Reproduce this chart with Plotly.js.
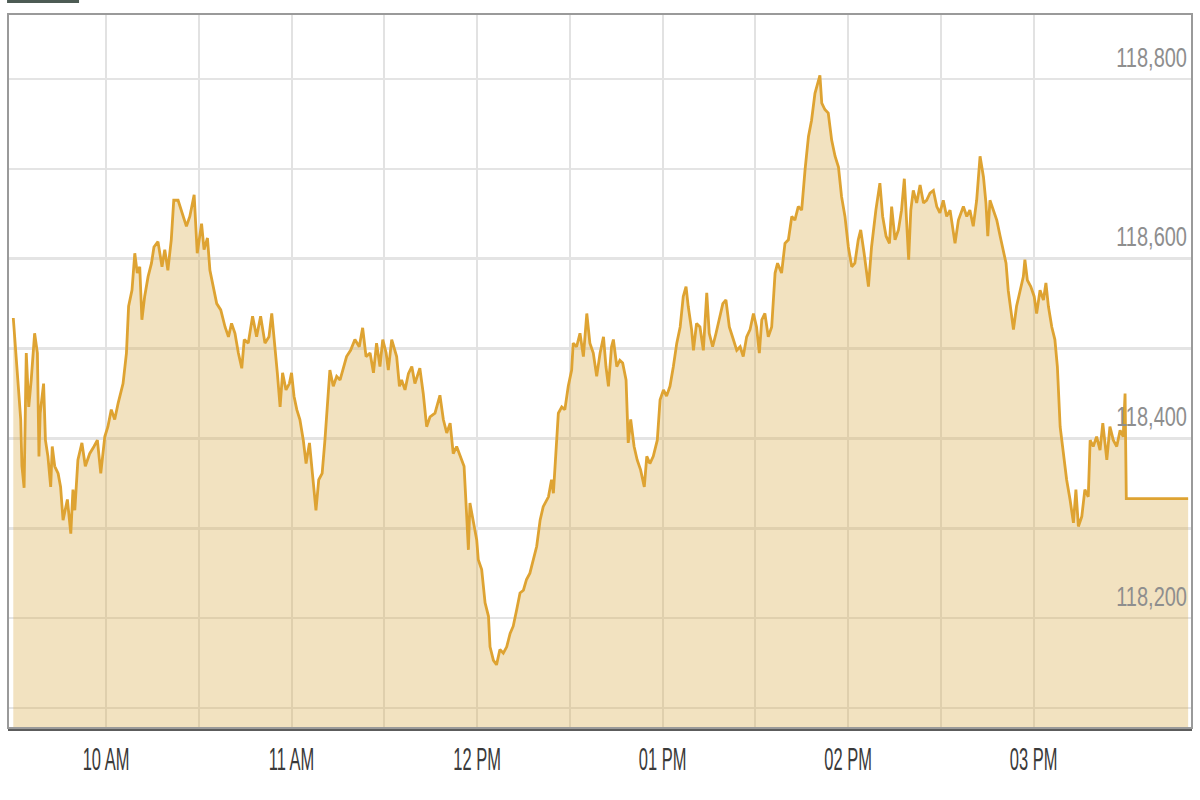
<!DOCTYPE html>
<html>
<head>
<meta charset="utf-8">
<script src="https://cdn.plot.ly/plotly-3.0.1.min.js"></script>
<style>
  html, body { margin: 0; padding: 0; background: #ffffff; }
  #chart { width: 1200px; height: 800px; }
</style>
</head>
<body>
<div id="chart"></div>
<script>
// minutes after 09:30
const minutes = [
  0, 1.5, 2.4, 2.8, 3.5, 4.2, 5.0, 5.8, 6.9, 7.8, 8.3, 8.7, 9.8, 10.4, 11.2, 12.1, 12.6, 13.4, 14.5, 15.3,
  16.1, 17.5, 18.6, 19.3, 19.9, 20.9, 22.2, 23.3, 24.7, 26.1, 27.2, 28.3, 29.6, 30.6, 31.7, 32.8, 33.9, 35.5, 36.6, 37.3,
  38.4, 39.3, 40.1, 40.9, 41.6, 42.5, 43.6, 44.7, 45.5, 46.8, 48.1, 49.0, 50.0, 51.1, 51.9, 53.3, 54.4, 56.0, 57.1, 58.5,
  59.5, 60.9, 61.7, 62.8, 63.6, 64.7, 65.8, 67.1, 68.5, 69.6, 70.6, 71.7, 72.8, 73.9, 74.7, 76.0, 77.4, 78.7, 80.0, 81.4,
  82.7, 83.6, 84.7, 85.4, 86.3, 87.1, 88.2, 89.3, 90.0, 90.8, 91.7, 92.7, 93.8, 94.7, 95.8, 96.8, 97.9, 98.8, 99.9, 100.8,
  101.6, 102.4, 103.5, 104.6, 105.7, 106.8, 107.8, 109.1, 110.5, 111.9, 113.0, 114.1, 115.4, 116.5, 117.5, 118.6, 119.5, 120.6, 121.3, 122.4,
  124.0, 124.9, 125.6, 126.7, 127.8, 128.9, 129.9, 131.5, 132.6, 133.7, 134.8, 136.4, 138.0, 139.1, 140.2, 141.3, 142.3, 143.4, 144.5, 145.8,
  146.6, 147.2, 147.7, 148.8, 149.9, 150.4, 151.5, 152.6, 153.7, 154.2, 155.3, 156.3, 157.4, 158.5, 159.6, 160.7, 161.7, 162.8, 163.9, 165.0,
  166.0, 167.1, 168.2, 169.3, 170.4, 171.4, 173.1, 174.1, 174.7, 175.8, 176.3, 177.4, 178.4, 179.5, 180.6, 181.1, 182.2, 183.3, 184.4, 185.5,
  186.5, 187.6, 188.7, 189.8, 190.9, 191.7, 192.5, 193.5, 194.1, 195.2, 196.2, 197.1, 198.2, 198.9, 199.7, 200.8, 201.8, 202.9, 204.1, 204.9,
  205.9, 207.0, 208.3, 209.2, 210.3, 211.3, 212.4, 213.5, 214.6, 215.7, 216.7, 217.6, 218.3, 219.4, 220.0, 221.0, 222.1, 223.2, 224.3, 225.1,
  226.2, 227.3, 228.4, 229.5, 230.5, 231.6, 232.9, 234.0, 235.1, 236.1, 237.2, 238.3, 239.4, 240.4, 241.3, 242.1, 243.1, 244.2, 245.3, 246.4,
  247.2, 248.5, 249.6, 250.7, 251.8, 252.8, 253.9, 255.0, 256.1, 257.2, 258.2, 259.3, 260.9, 261.5, 262.5, 263.6, 264.7, 265.8, 266.9, 267.9,
  269.0, 270.1, 271.2, 272.2, 273.3, 274.1, 275.2, 276.6, 277.6, 279.0, 280.3, 281.2, 282.3, 283.4, 284.1, 285.2, 286.3, 287.3, 288.2, 289.0,
  289.6, 290.3, 291.1, 292.2, 293.3, 294.4, 295.4, 296.5, 297.6, 298.7, 299.7, 300.8, 301.9, 303.0, 304.6, 305.7, 307.3, 308.4, 309.4, 310.5,
  311.6, 312.7, 313.8, 314.6, 315.2, 315.9, 317.0, 318.1, 319.2, 320.2, 321.1, 321.8, 322.9, 323.5, 324.5, 325.6, 326.7, 327.2, 328.0, 329.1,
  330.2, 331.0, 332.1, 333.2, 334.0, 334.8, 335.9, 336.9, 337.7, 338.6, 339.6, 340.7, 341.8, 342.9, 343.7, 344.5, 345.6, 346.6, 347.7, 348.3,
  349.3, 350.4, 351.5, 352.4, 353.7, 354.7, 355.8, 356.9, 358.0, 359.0, 359.6, 360.0, 380.0
];

const prices = [
  118534, 118465, 118421, 118369, 118345, 118495, 118435, 118465, 118517, 118495, 118380, 118428, 118461, 118398, 118380, 118346, 118391, 118369, 118361, 118346,
  118309, 118332, 118294, 118343, 118320, 118376, 118395, 118369, 118383, 118391, 118398, 118361, 118402, 118413, 118432, 118421, 118439, 118461, 118495, 118547,
  118565, 118606, 118584, 118591, 118532, 118558, 118580, 118595, 118613, 118619, 118591, 118610, 118587, 118621, 118665, 118665, 118654, 118636, 118647, 118671,
  118606, 118639, 118610, 118623, 118587, 118569, 118550, 118543, 118524, 118513, 118528, 118517, 118495, 118478, 118510, 118506, 118536, 118513, 118536, 118506,
  118513, 118539, 118502, 118473, 118435, 118473, 118454, 118461, 118473, 118447, 118432, 118421, 118398, 118372, 118395, 118361, 118320, 118354, 118361, 118398,
  118443, 118476, 118458, 118469, 118465, 118480, 118491, 118498, 118510, 118502, 118523, 118491, 118495, 118473, 118506, 118480, 118510, 118495, 118476, 118510,
  118491, 118458, 118465, 118454, 118472, 118480, 118461, 118478, 118450, 118413, 118424, 118428, 118448, 118421, 118406, 118417, 118383, 118391, 118380, 118369,
  118317, 118276, 118328, 118306, 118287, 118265, 118254, 118217, 118202, 118168, 118153, 118148, 118165, 118161, 118168, 118183, 118191, 118209, 118228, 118231,
  118243, 118250, 118265, 118280, 118309, 118324, 118335, 118354, 118339, 118398, 118428, 118435, 118432, 118458, 118476, 118506, 118502, 118517, 118491, 118539,
  118506, 118495, 118469, 118495, 118513, 118480, 118458, 118502, 118510, 118480, 118487, 118484, 118465, 118395, 118421, 118391, 118376, 118365, 118346, 118380,
  118372, 118380, 118398, 118443, 118454, 118447, 118458, 118480, 118506, 118524, 118558, 118569, 118547, 118521, 118498, 118528, 118524, 118498, 118562, 118517,
  118502, 118517, 118532, 118550, 118554, 118524, 118510, 118498, 118502, 118491, 118513, 118521, 118539, 118524, 118495, 118532, 118539, 118513, 118524, 118584,
  118595, 118584, 118617, 118621, 118647, 118643, 118658, 118654, 118699, 118736, 118754, 118784, 118804, 118773, 118766, 118762, 118732, 118714, 118702, 118669,
  118647, 118613, 118591, 118595, 118621, 118632, 118606, 118569, 118613, 118654, 118684, 118647, 118625, 118617, 118658, 118621, 118632, 118654, 118689, 118643,
  118599, 118654, 118676, 118662, 118682, 118662, 118665, 118673, 118676, 118658, 118651, 118665, 118647, 118654, 118617, 118643, 118658, 118647, 118654, 118636,
  118665, 118714, 118691, 118662, 118625, 118665, 118654, 118643, 118625, 118610, 118595, 118565, 118532, 118521, 118547, 118565, 118580, 118599, 118576, 118569,
  118558, 118539, 118565, 118554, 118573, 118547, 118524, 118510, 118480, 118413, 118383, 118354, 118332, 118306, 118343, 118302, 118313, 118343, 118335, 118398,
  118391, 118402, 118387, 118417, 118376, 118413, 118398, 118391, 118409, 118402, 118450, 118333, 118333
];

const timeTickVals = [30, 60, 90, 120, 150, 180, 210, 240, 270, 300, 330, 360];
const timeTickText = ["10 AM", "", "11 AM", "", "12 PM", "", "01 PM", "", "02 PM", "", "03 PM", ""];

const FONT = "'Liberation Sans', Arial, sans-serif";

const trace = {
  x: minutes,
  y: prices,
  type: 'scatter',
  mode: 'lines',
  line: { color: '#dea332', width: 2.8, shape: 'linear' },
  fill: 'tozeroy',
  fillcolor: 'rgba(218,172,75,0.35)',
  hoverinfo: 'skip'
};

const layout = {
  width: 1200,
  height: 800,
  margin: { l: 8, r: 8, t: 14, b: 72, pad: 0 },
  paper_bgcolor: '#ffffff',
  plot_bgcolor: '#ffffff',
  showlegend: false,
  xaxis: {
    type: 'linear',
    range: [-1.71, 381.25],
    tickmode: 'array',
    tickvals: timeTickVals,
    ticktext: timeTickText,
    showgrid: true,
    gridcolor: '#e2e2e2',
    gridwidth: 2,
    zeroline: false,
    showline: true,
    linecolor: '#5c5c5c',
    linewidth: 2.5,
    ticks: '',
    ticklabelstandoff: 14,
    tickfont: { family: FONT, size: 16.5, color: '#3a3a3a' },
    fixedrange: true
  },
  yaxis: {
    type: 'linear',
    range: [118077.7, 118872.3],
    side: 'right',
    tick0: 118000,
    dtick: 200,
    tickformat: ',d',
    ticklabelposition: 'inside',
    ticklabelshift: -22,
    ticklabelstandoff: 2,
    ticks: '',
    showgrid: true,
    gridcolor: '#e4e4e4',
    gridwidth: 2.5,
    minor: { dtick: 100, tick0: 118000, showgrid: true, gridcolor: '#e4e4e4', gridwidth: 2.5, ticks: '' },
    zeroline: false,
    showline: false,
    tickfont: { family: FONT, size: 20, color: '#8e8e8e' },
    fixedrange: true
  },
  shapes: [
    { type: 'rect', xref: 'paper', yref: 'paper', x0: 0, x1: 1, y0: 0, y1: 1,
      line: { color: '#9a9a9a', width: 2 }, fillcolor: 'rgba(0,0,0,0)', layer: 'above' },
    { type: 'rect', xref: 'paper', yref: 'paper', x0: -0.0008, x1: 0.06, y0: 1.0154, y1: 1.0196,
      line: { width: 0 }, fillcolor: '#4d5b54', layer: 'above' }
  ]
};

// stretch tick labels vertically about their own centre (the source uses a tall, narrow face)
function stretchLabels(gd, selector, sy) {
  gd.querySelectorAll(selector).forEach(function (t) {
    const b = t.getBBox();
    const cx = b.x + b.width / 2, cy = b.y + b.height / 2;
    const prev = t.getAttribute('transform') || '';
    t.setAttribute('transform', prev + ' translate(' + cx + ',' + cy + ') scale(1,' + sy + ') translate(' + (-cx) + ',' + (-cy) + ')');
  });
}

Plotly.newPlot('chart', [trace], layout, { staticPlot: true, displayModeBar: false }).then(function (gd) {
  stretchLabels(gd, '.xtick text', 1.9);
  stretchLabels(gd, '.ytick text', 1.4);
});
</script>
</body>
</html>
